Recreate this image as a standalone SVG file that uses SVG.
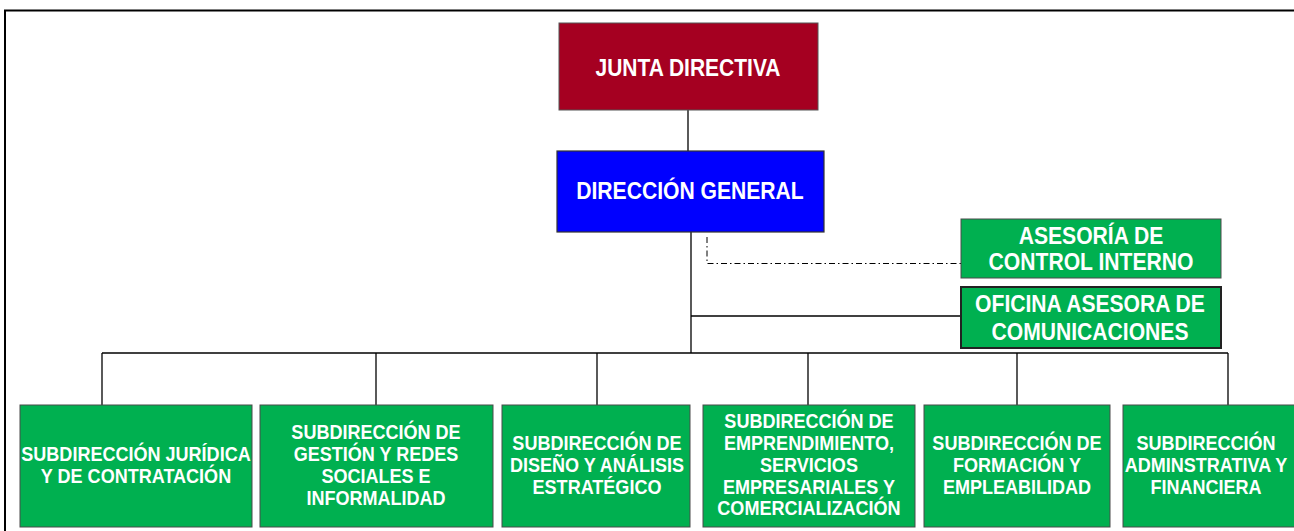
<svg xmlns="http://www.w3.org/2000/svg" width="1294" height="531" viewBox="0 0 1294 531">
<style>
.t{font-family:"Liberation Sans",Arial,sans-serif;font-weight:bold;fill:#fff;text-anchor:middle}
.big{font-size:24px}
.sm{font-size:20.5px}
.green{fill:#00B050;stroke:#4a4a4a;stroke-width:1}
.ln{stroke:#000;stroke-width:1.3;fill:none}
</style>
<rect x="0" y="0" width="1294" height="531" fill="#fff"/>
<path d="M5 531 V10.5 H1294" fill="none" stroke="#000" stroke-width="2"/>
<g id="connectors">
<line class="ln" x1="688" y1="110" x2="688" y2="151"/>
<line class="ln" x1="691" y1="232" x2="691" y2="353"/>
<path d="M707 237 V263.5 H961" fill="none" stroke="#000" stroke-width="1" stroke-dasharray="6,3,1.5,3"/>
<line class="ln" x1="691" y1="316" x2="961" y2="316"/>
<line class="ln" x1="102" y1="353" x2="1228" y2="353"/>
<line class="ln" x1="102" y1="353" x2="102" y2="405"/>
<line class="ln" x1="376" y1="353" x2="376" y2="405"/>
<line class="ln" x1="597" y1="353" x2="597" y2="405"/>
<line class="ln" x1="808" y1="353" x2="808" y2="405"/>
<line class="ln" x1="1017" y1="353" x2="1017" y2="405"/>
<line class="ln" x1="1228" y1="353" x2="1228" y2="405"/>
</g>
<g id="junta">
<rect x="559" y="23" width="259" height="87" fill="#A50021" stroke="#555" stroke-width="1"/>
<g transform="translate(688 0) scale(0.875 1)"><text class="t big" x="0" y="76">JUNTA DIRECTIVA</text></g>
</g>
<g id="direccion">
<rect x="557" y="151" width="267" height="81" fill="#0000FF" stroke="#333" stroke-width="1.2"/>
<g transform="translate(690 0) scale(0.88 1)"><text class="t big" x="0" y="199">DIRECCIÓN GENERAL</text></g>
</g>
<g id="asesoria">
<rect class="green" x="961" y="219" width="260" height="59"/>
<g transform="translate(1091 0) scale(0.88 1)">
<text class="t big" x="0" y="244">ASESORÍA DE</text>
<text class="t big" x="0" y="270">CONTROL INTERNO</text>
</g>
</g>
<g id="oficina">
<rect x="961" y="287" width="260" height="61" fill="#00B050" stroke="#222" stroke-width="2"/>
<g transform="translate(1090 0) scale(0.88 1)">
<text class="t big" x="0" y="312">OFICINA ASESORA DE</text>
<text class="t big" x="0" y="340">COMUNICACIONES</text>
</g>
</g>
<g id="sub-juridica">
<rect class="green" x="20" y="405" width="232" height="122"/>
<g transform="translate(136 0) scale(0.88 1)">
<text class="t sm" x="0" y="461">SUBDIRECCIÓN JURÍDICA</text>
<text class="t sm" x="0" y="483">Y DE CONTRATACIÓN</text>
</g>
</g>
<g id="sub-gestion">
<rect class="green" x="260" y="405" width="233" height="122"/>
<g transform="translate(376 0) scale(0.88 1)">
<text class="t sm" x="0" y="439">SUBDIRECCIÓN DE</text>
<text class="t sm" x="0" y="461">GESTIÓN Y REDES</text>
<text class="t sm" x="0" y="483">SOCIALES E</text>
<text class="t sm" x="0" y="505">INFORMALIDAD</text>
</g>
</g>
<g id="sub-diseno">
<rect class="green" x="502" y="405" width="188" height="122"/>
<g transform="translate(597 0) scale(0.88 1)">
<text class="t sm" x="0" y="450">SUBDIRECCIÓN DE</text>
<text class="t sm" x="0" y="472">DISEÑO Y ANÁLISIS</text>
<text class="t sm" x="0" y="494">ESTRATÉGICO</text>
</g>
</g>
<g id="sub-emprendimiento">
<rect class="green" x="703" y="405" width="212" height="122"/>
<g transform="translate(809 0) scale(0.88 1)">
<text class="t sm" x="0" y="428">SUBDIRECCIÓN DE</text>
<text class="t sm" x="0" y="450">EMPRENDIMIENTO,</text>
<text class="t sm" x="0" y="472">SERVICIOS</text>
<text class="t sm" x="0" y="494">EMPRESARIALES Y</text>
<text class="t sm" x="0" y="515">COMERCIALIZACIÓN</text>
</g>
</g>
<g id="sub-formacion">
<rect class="green" x="924" y="405" width="186" height="122"/>
<g transform="translate(1017 0) scale(0.88 1)">
<text class="t sm" x="0" y="450">SUBDIRECCIÓN DE</text>
<text class="t sm" x="0" y="472">FORMACIÓN Y</text>
<text class="t sm" x="0" y="494">EMPLEABILIDAD</text>
</g>
</g>
<g id="sub-administrativa">
<rect class="green" x="1123" y="405" width="180" height="122"/>
<g transform="translate(1206 0) scale(0.88 1)">
<text class="t sm" x="0" y="450">SUBDIRECCIÓN</text>
<text class="t sm" x="0" y="472">ADMINSTRATIVA Y</text>
<text class="t sm" x="0" y="494">FINANCIERA</text>
</g>
</g>
</svg>
